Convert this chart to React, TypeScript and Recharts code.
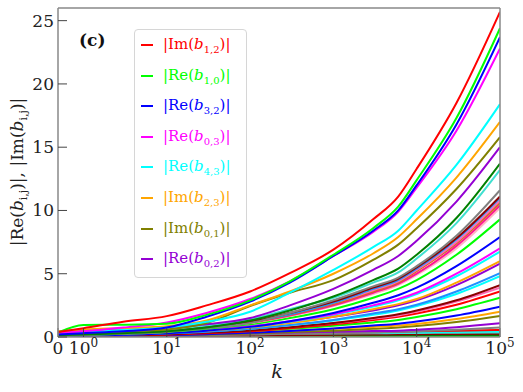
import { LineChart, Line, XAxis, YAxis } from "recharts"

// sample points in k (x axis is symlog: linear 0..1, log above)
const K = [0, 1, 3, 10, 30, 100, 300, 1000, 3000, 6000, 10000, 30000, 100000]

// named curves (legend)
const imB12 = [0.40, 0.70, 1.20, 1.65, 2.50, 3.60, 5.05, 6.90, 9.30, 11.1, 13.3, 18.5, 25.7]
const reB10 = [0.35, 0.95, 0.97, 1.05, 1.75, 2.90, 4.40, 6.50, 8.60, 10.3, 12.4, 17.3, 24.4]
const reB32 = [0.20, 0.30, 0.45, 0.75, 1.60, 2.80, 4.30, 6.40, 8.40, 10.0, 12.0, 16.8, 23.7]
const reB03 = [0.30, 0.45, 0.75, 1.15, 1.90, 3.00, 4.40, 6.40, 8.30, 9.90, 11.8, 16.3, 22.8]
const reB43 = [0.30, 0.40, 0.55, 0.75, 1.20, 2.00, 3.50, 5.30, 7.10, 8.40, 10.0, 13.6, 18.4]
const imB23 = [0.45, 0.60, 0.70, 0.85, 1.30, 2.50, 3.60, 5.00, 6.60, 7.90, 9.30, 12.6, 17.0]
const imB01 = [0.25, 0.35, 0.45, 0.60, 1.10, 2.45, 3.50, 4.50, 6.10, 7.30, 8.60, 11.7, 15.8]
const reB02 = [0.40, 0.50, 0.60, 0.75, 1.00, 1.50, 2.50, 3.80, 5.30, 6.40, 7.60, 10.7, 15.0]

// remaining curves, no legend entry
const c09 = [0.15, 0.20, 0.30, 0.45, 0.75, 1.30, 2.10, 3.20, 4.50, 5.40, 6.50, 9.40, 13.7]
const c10 = [0.30, 0.35, 0.45, 0.60, 0.90, 1.40, 2.20, 3.10, 4.30, 5.10, 6.20, 9.00, 13.2]
const c11 = [0.10, 0.15, 0.25, 0.40, 0.70, 1.10, 1.90, 2.90, 4.00, 4.70, 5.60, 8.00, 11.6]
const c12 = [0.20, 0.25, 0.35, 0.50, 0.80, 1.20, 1.90, 2.80, 3.90, 4.60, 5.50, 7.80, 11.1]
const c13 = [0.25, 0.30, 0.40, 0.55, 0.80, 1.20, 1.80, 2.70, 3.80, 4.50, 5.40, 7.70, 11.0]
const c14 = [0.35, 0.40, 0.50, 0.65, 0.90, 1.30, 1.90, 2.70, 3.70, 4.40, 5.30, 7.50, 10.8]
const c15 = [0.15, 0.20, 0.30, 0.45, 0.75, 1.15, 1.75, 2.60, 3.60, 4.30, 5.20, 7.40, 10.6]
const c16 = [0.28, 0.32, 0.40, 0.55, 0.80, 1.15, 1.70, 2.50, 3.50, 4.20, 5.00, 7.20, 10.4]
const c17 = [0.20, 0.25, 0.35, 0.50, 0.75, 1.10, 1.65, 2.45, 3.40, 4.10, 4.90, 7.00, 10.2]
const c18 = [0.10, 0.15, 0.25, 0.40, 0.65, 1.00, 1.50, 2.20, 3.10, 3.80, 4.50, 6.50, 9.3]
const c19 = [0.05, 0.10, 0.18, 0.30, 0.50, 0.80, 1.25, 1.90, 2.70, 3.30, 3.90, 5.60, 7.9]
const c20 = [0.12, 0.15, 0.22, 0.35, 0.55, 0.85, 1.25, 1.80, 2.50, 3.00, 3.50, 5.00, 7.0]
const c21 = [0.20, 0.22, 0.28, 0.38, 0.55, 0.80, 1.20, 1.75, 2.40, 2.90, 3.40, 4.80, 6.75]
const c22 = [0.15, 0.18, 0.25, 0.35, 0.50, 0.75, 1.10, 1.60, 2.20, 2.60, 3.00, 4.30, 6.0]
const c23 = [0.30, 0.30, 0.35, 0.45, 0.60, 0.85, 1.15, 1.60, 2.10, 2.50, 2.90, 4.10, 5.8]
const c24 = [0.10, 0.12, 0.18, 0.28, 0.42, 0.65, 0.95, 1.35, 1.85, 2.20, 2.55, 3.60, 5.05]
const c25 = [0.18, 0.20, 0.25, 0.33, 0.45, 0.65, 0.92, 1.30, 1.75, 2.10, 2.45, 3.40, 4.8]
const c26 = [0.08, 0.10, 0.15, 0.22, 0.35, 0.52, 0.78, 1.10, 1.50, 1.80, 2.10, 2.90, 4.1]
const c27 = [0.22, 0.22, 0.26, 0.32, 0.42, 0.58, 0.80, 1.10, 1.45, 1.70, 2.00, 2.80, 3.9]
const c28 = [0.05, 0.08, 0.12, 0.18, 0.30, 0.45, 0.70, 1.00, 1.35, 1.60, 1.85, 2.55, 3.6]
const c29 = [0.15, 0.16, 0.20, 0.25, 0.35, 0.48, 0.65, 0.88, 1.15, 1.35, 1.58, 2.20, 3.1]
const c30 = [0.05, 0.06, 0.09, 0.14, 0.22, 0.33, 0.48, 0.68, 0.90, 1.05, 1.22, 1.70, 2.4]
const c31 = [0.12, 0.12, 0.15, 0.20, 0.27, 0.37, 0.50, 0.65, 0.80, 0.90, 1.03, 1.42, 2.0]
const c32 = [0.08, 0.08, 0.10, 0.14, 0.20, 0.28, 0.38, 0.50, 0.65, 0.75, 0.86, 1.18, 1.66]
const c33 = [0.18, 0.18, 0.19, 0.21, 0.25, 0.30, 0.36, 0.42, 0.47, 0.50, 0.58, 0.78, 1.08]
const c34 = [0.05, 0.05, 0.07, 0.10, 0.14, 0.20, 0.26, 0.32, 0.36, 0.40, 0.45, 0.58, 0.75]
const c35 = [0.10, 0.10, 0.12, 0.15, 0.18, 0.22, 0.27, 0.32, 0.38, 0.42, 0.45, 0.50, 0.55]
const c36 = [0.25, 0.25, 0.25, 0.26, 0.28, 0.30, 0.32, 0.34, 0.36, 0.37, 0.38, 0.42, 0.45]
const c37 = [0.15, 0.15, 0.16, 0.18, 0.20, 0.22, 0.25, 0.28, 0.30, 0.31, 0.32, 0.34, 0.35]
const c38 = [0.05, 0.05, 0.06, 0.08, 0.10, 0.12, 0.14, 0.17, 0.20, 0.21, 0.22, 0.24, 0.25]
const c39 = [0.30, 0.28, 0.26, 0.24, 0.22, 0.20, 0.18, 0.17, 0.16, 0.16, 0.16, 0.15, 0.15]
const c40 = [0.20, 0.19, 0.18, 0.16, 0.14, 0.12, 0.10, 0.09, 0.08, 0.07, 0.06, 0.05, 0.05]
const c41 = [0.15, 0.14, 0.12, 0.11, 0.10, 0.09, 0.08, 0.07, 0.06, 0.05, 0.04, 0.03, 0.02]
const c42 = [0.35, 0.33, 0.30, 0.28, 0.26, 0.24, 0.22, 0.20, 0.19, 0.18, 0.18, 0.17, 0.17]

const X_TICK_K = [0, 1, 10, 100, 1000, 10000, 100000]
const X_TICK_EXP = [null, "0", "1", "2", "3", "4", "5"]
const Y_TICKS = [0, 5, 10, 15, 20, 25]

const RED = "#ff0000", LIME = "#00ff00", BLUE = "#0000ff", MAGENTA = "#ff00ff"
const CYAN = "#00ffff", ORANGE = "#ffa500", OLIVE = "#808000", VIOLET = "#9400d3"
const GREEN = "#008000", TURQ = "#40e0d0", GRAY = "#808080", MAROON = "#8b0000"
const DODGER = "#1e90ff", HOTPINK = "#ff69b4", CHOC = "#d2691e", DEEPPINK = "#ff1493", PINK = "#ffb6c1"

type Series = { values: number[]; color: string; re?: boolean; sub?: string }

const SERIES: Series[] = [
  { values: c42, color: VIOLET }, { values: c41, color: RED }, { values: c40, color: LIME },
  { values: c39, color: GREEN }, { values: c38, color: MAROON }, { values: c37, color: TURQ },
  { values: c36, color: CYAN }, { values: c35, color: RED }, { values: c34, color: GRAY },
  { values: c33, color: VIOLET }, { values: c32, color: OLIVE }, { values: c31, color: ORANGE },
  { values: c30, color: BLUE }, { values: c29, color: LIME }, { values: c28, color: RED },
  { values: c27, color: HOTPINK }, { values: c26, color: MAROON }, { values: c25, color: CYAN },
  { values: c24, color: DODGER }, { values: c23, color: VIOLET }, { values: c22, color: ORANGE },
  { values: c21, color: CYAN }, { values: c20, color: MAGENTA }, { values: c19, color: BLUE },
  { values: c18, color: LIME }, { values: c17, color: PINK }, { values: c16, color: DEEPPINK },
  { values: c15, color: CHOC }, { values: c14, color: HOTPINK }, { values: c13, color: DODGER },
  { values: c12, color: MAROON }, { values: c11, color: GRAY }, { values: c10, color: TURQ },
  { values: c09, color: GREEN },
  { values: reB02, color: VIOLET, re: true, sub: "0,2" },
  { values: imB01, color: OLIVE, re: false, sub: "0,1" },
  { values: imB23, color: ORANGE, re: false, sub: "2,3" },
  { values: reB43, color: CYAN, re: true, sub: "4,3" },
  { values: reB03, color: MAGENTA, re: true, sub: "0,3" },
  { values: reB32, color: BLUE, re: true, sub: "3,2" },
  { values: reB10, color: LIME, re: true, sub: "1,0" },
  { values: imB12, color: RED, re: false, sub: "1,2" },
]

const LEGEND = SERIES.filter((s) => s.sub).reverse()

// symlog position: linear part 0..1, then one unit per decade
const LIN = 0.306
const toU = (k: number) => (k <= 1 ? k * LIN : LIN + Math.log10(k))
const U_MAX = toU(100000)
const X_TICKS = X_TICK_K.map(toU)

const rows = K.map((k, i) => {
  const row: Record<string, number> = { u: toU(k) }
  SERIES.forEach((s, j) => (row["s" + j] = s.values[i]))
  return row
})

const FONT = "'DejaVu Serif', 'Liberation Serif', serif"
const AXIS = "#888888"
const TICK = "#444444"

function XTick(props: any) {
  const { x, y, payload } = props
  const idx = X_TICKS.findIndex((t) => Math.abs(t - payload.value) < 1e-6)
  const exp = X_TICK_EXP[idx]
  return (
    <text x={x} y={y + 17} textAnchor="middle" fontFamily={FONT} fontSize={17} fill="#222">
      {exp === null || exp === undefined ? "0" : (
        <>
          <tspan>10</tspan>
          <tspan dy={-7} fontSize={12}>{exp}</tspan>
        </>
      )}
    </text>
  )
}

function Sub({ children, size = 11 }: { children: string; size?: number }) {
  return <span style={{ fontSize: size, position: "relative", top: 4 }}>{children}</span>
}

export default function App() {
  return (
    <div style={{ position: "absolute", left: 0, top: 0, width: 523, height: 392, background: "#fff" }}>
      <LineChart width={523} height={392} data={rows} margin={{ top: 7, right: 22, bottom: 25, left: 28 }}>
        <XAxis
          dataKey="u"
          type="number"
          domain={[0, U_MAX]}
          ticks={X_TICKS}
          interval={0}
          allowDataOverflow
          height={30}
          tickSize={-9}
          tickMargin={9}
          tick={<XTick />}
          axisLine={{ stroke: AXIS, strokeWidth: 1.5 }}
          tickLine={{ stroke: TICK }}
        />
        <XAxis
          xAxisId="top"
          orientation="top"
          type="number"
          domain={[0, U_MAX]}
          ticks={X_TICKS}
          interval={0}
          allowDataOverflow
          height={1}
          tickSize={-9}
          tick={false}
          axisLine={{ stroke: AXIS, strokeWidth: 1.5 }}
          tickLine={{ stroke: TICK }}
        />
        <YAxis
          type="number"
          domain={[0, 26]}
          ticks={Y_TICKS}
          interval={0}
          allowDataOverflow
          width={30}
          tickSize={-9}
          tickMargin={13}
          tick={{ fontFamily: FONT, fontSize: 17, fill: "#222" }}
          axisLine={{ stroke: AXIS, strokeWidth: 1.5 }}
          tickLine={{ stroke: TICK }}
        />
        <YAxis
          yAxisId="right"
          orientation="right"
          type="number"
          domain={[0, 26]}
          ticks={Y_TICKS}
          interval={0}
          allowDataOverflow
          width={1}
          tickSize={-9}
          tick={false}
          axisLine={{ stroke: AXIS, strokeWidth: 1.5 }}
          tickLine={{ stroke: TICK }}
        />
        {SERIES.map((s, j) => (
          <Line
            key={j}
            type="monotone"
            dataKey={"s" + j}
            stroke={s.color}
            strokeWidth={2}
            dot={false}
            activeDot={false}
            isAnimationActive={false}
          />
        ))}
      </LineChart>

      {/* panel tag */}
      <div style={{ position: "absolute", left: 79, top: 30, fontFamily: FONT, fontSize: 17, fontWeight: "bold", color: "#111" }}>
        (c)
      </div>

      {/* legend */}
      <div
        style={{
          position: "absolute",
          left: 134,
          top: 29,
          width: 111,
          height: 247,
          border: "1px solid #d6d6d6",
          borderRadius: 4,
          background: "rgba(255,255,255,0.85)",
        }}
      >
        {LEGEND.map((s, i) => (
          <div key={i} style={{ position: "absolute", left: 0, top: 15 + i * 30.6, width: 111, height: 0 }}>
            <div style={{ position: "absolute", left: 6, top: -1, width: 12, height: 2, background: s.color }} />
            <div
              style={{
                position: "absolute",
                left: 28,
                top: -11,
                fontFamily: FONT,
                fontSize: 15,
                lineHeight: "21px",
                color: s.color,
                whiteSpace: "nowrap",
              }}
            >
              |{s.re ? "Re" : "Im"}(<i>b</i>
              <Sub size={10}>{s.sub as string}</Sub>)|
            </div>
          </div>
        ))}
      </div>

      {/* y label */}
      <div
        style={{
          position: "absolute",
          left: 18,
          top: 172,
          transform: "translate(-50%, -50%) rotate(-90deg)",
          fontFamily: FONT,
          fontSize: 17,
          color: "#222",
          whiteSpace: "nowrap",
          lineHeight: "22px",
        }}
      >
        |Re(<i>b</i>
        <Sub>i,j</Sub>)|, |Im(<i>b</i>
        <Sub>i,j</Sub>)|
      </div>

      {/* x label */}
      <div
        style={{
          position: "absolute",
          left: 277,
          top: 360,
          transform: "translateX(-50%)",
          fontFamily: FONT,
          fontSize: 19,
          fontStyle: "italic",
          color: "#222",
        }}
      >
        k
      </div>
    </div>
  )
}
